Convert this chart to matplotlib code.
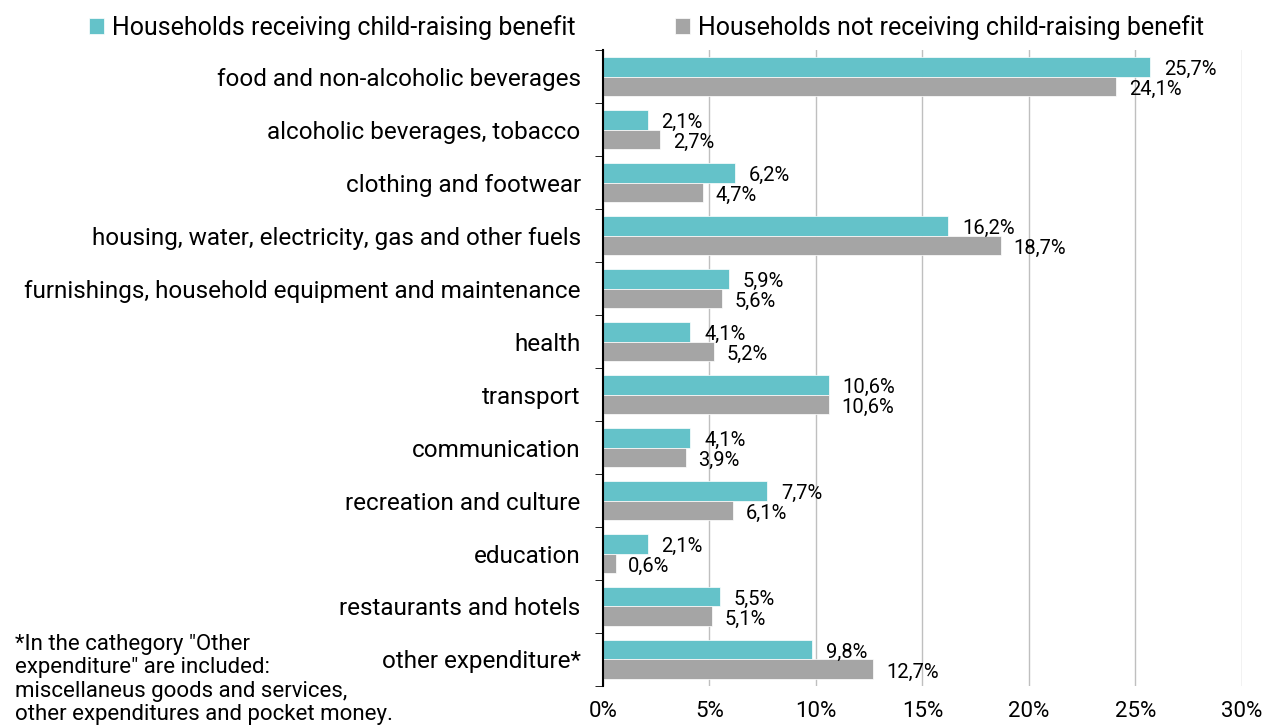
import matplotlib.pyplot as plt
import numpy as np

plt.rcParams['font.family'] = ['Roboto', 'DejaVu Sans']

categories = [
    "food and non-alcoholic beverages",
    "alcoholic beverages, tobacco",
    "clothing and footwear",
    "housing, water, electricity, gas and other fuels",
    "furnishings, household equipment and maintenance",
    "health",
    "transport",
    "communication",
    "recreation and culture",
    "education",
    "restaurants and hotels",
    "other expenditure*",
]
receiving = [25.7, 2.1, 6.2, 16.2, 5.9, 4.1, 10.6, 4.1, 7.7, 2.1, 5.5, 9.8]
not_receiving = [24.1, 2.7, 4.7, 18.7, 5.6, 5.2, 10.6, 3.9, 6.1, 0.6, 5.1, 12.7]
series_names = ["Households receiving child-raising benefit",
                "Households not receiving child-raising benefit"]
xticks = [0, 5, 10, 15, 20, 25, 30]

teal = '#64C2C9'
grey = '#A5A5A5'

fig = plt.figure(figsize=(12.68, 7.27), dpi=100)
ax = fig.add_axes([0.4755, 0.0564, 0.504, 0.8748])

n = len(categories)
y = np.arange(n)
h = 0.37
ax.barh(y - h / 2, receiving, height=h, color=teal, edgecolor='white', linewidth=0.5,
        label=series_names[0], zorder=3)
ax.barh(y + h / 2, not_receiving, height=h, color=grey, edgecolor='white', linewidth=0.5,
        label=series_names[1], zorder=3)

for yi, v in zip(y, receiving):
    ax.annotate(f"{v:.1f}%".replace('.', ','), (v, yi - h / 2 + 0.05), xytext=(10, 0),
                textcoords='offset points', ha='left', va='center', fontsize=14.5)
for yi, v in zip(y, not_receiving):
    ax.annotate(f"{v:.1f}%".replace('.', ','), (v, yi + h / 2 + 0.05), xytext=(9, 0),
                textcoords='offset points', ha='left', va='center', fontsize=14.5)

ax.set_ylim(n - 0.5, -0.5)
ax.set_xlim(0, 30)
ax.set_xticks(xticks)
ax.set_xticklabels([f"{t}%" for t in xticks], fontsize=16)
ax.tick_params(axis='x', length=0, pad=11)

ax.set_yticks(y)
ax.set_yticklabels(categories, fontsize=17.5)
ax.set_yticks(np.arange(n + 1) - 0.5, minor=True)
ax.tick_params(axis='y', which='major', length=0, pad=16)
ax.tick_params(axis='y', which='minor', length=6, direction='out', color='black')

ax.grid(axis='x', color='#BFBFBF', linewidth=1, zorder=0)
for s in ['top', 'right', 'bottom']:
    ax.spines[s].set_visible(False)
ax.spines['left'].set_linewidth(1.5)
ax.spines['left'].set_zorder(4)

fig.legend(loc='upper center', bbox_to_anchor=(0.51, 1.01), ncol=2, frameon=False,
           fontsize=18, handlelength=0.6, handleheight=0.6, handletextpad=0.3,
           columnspacing=4)

fig.text(0.012, 0.128,
         '*In the cathegory "Other\nexpenditure" are included:\n'
         'miscellaneus goods and services,\nother expenditures and pocket money.',
         ha='left', va='top', fontsize=16, linespacing=1.15)

fig.savefig('out.png', dpi=100)
